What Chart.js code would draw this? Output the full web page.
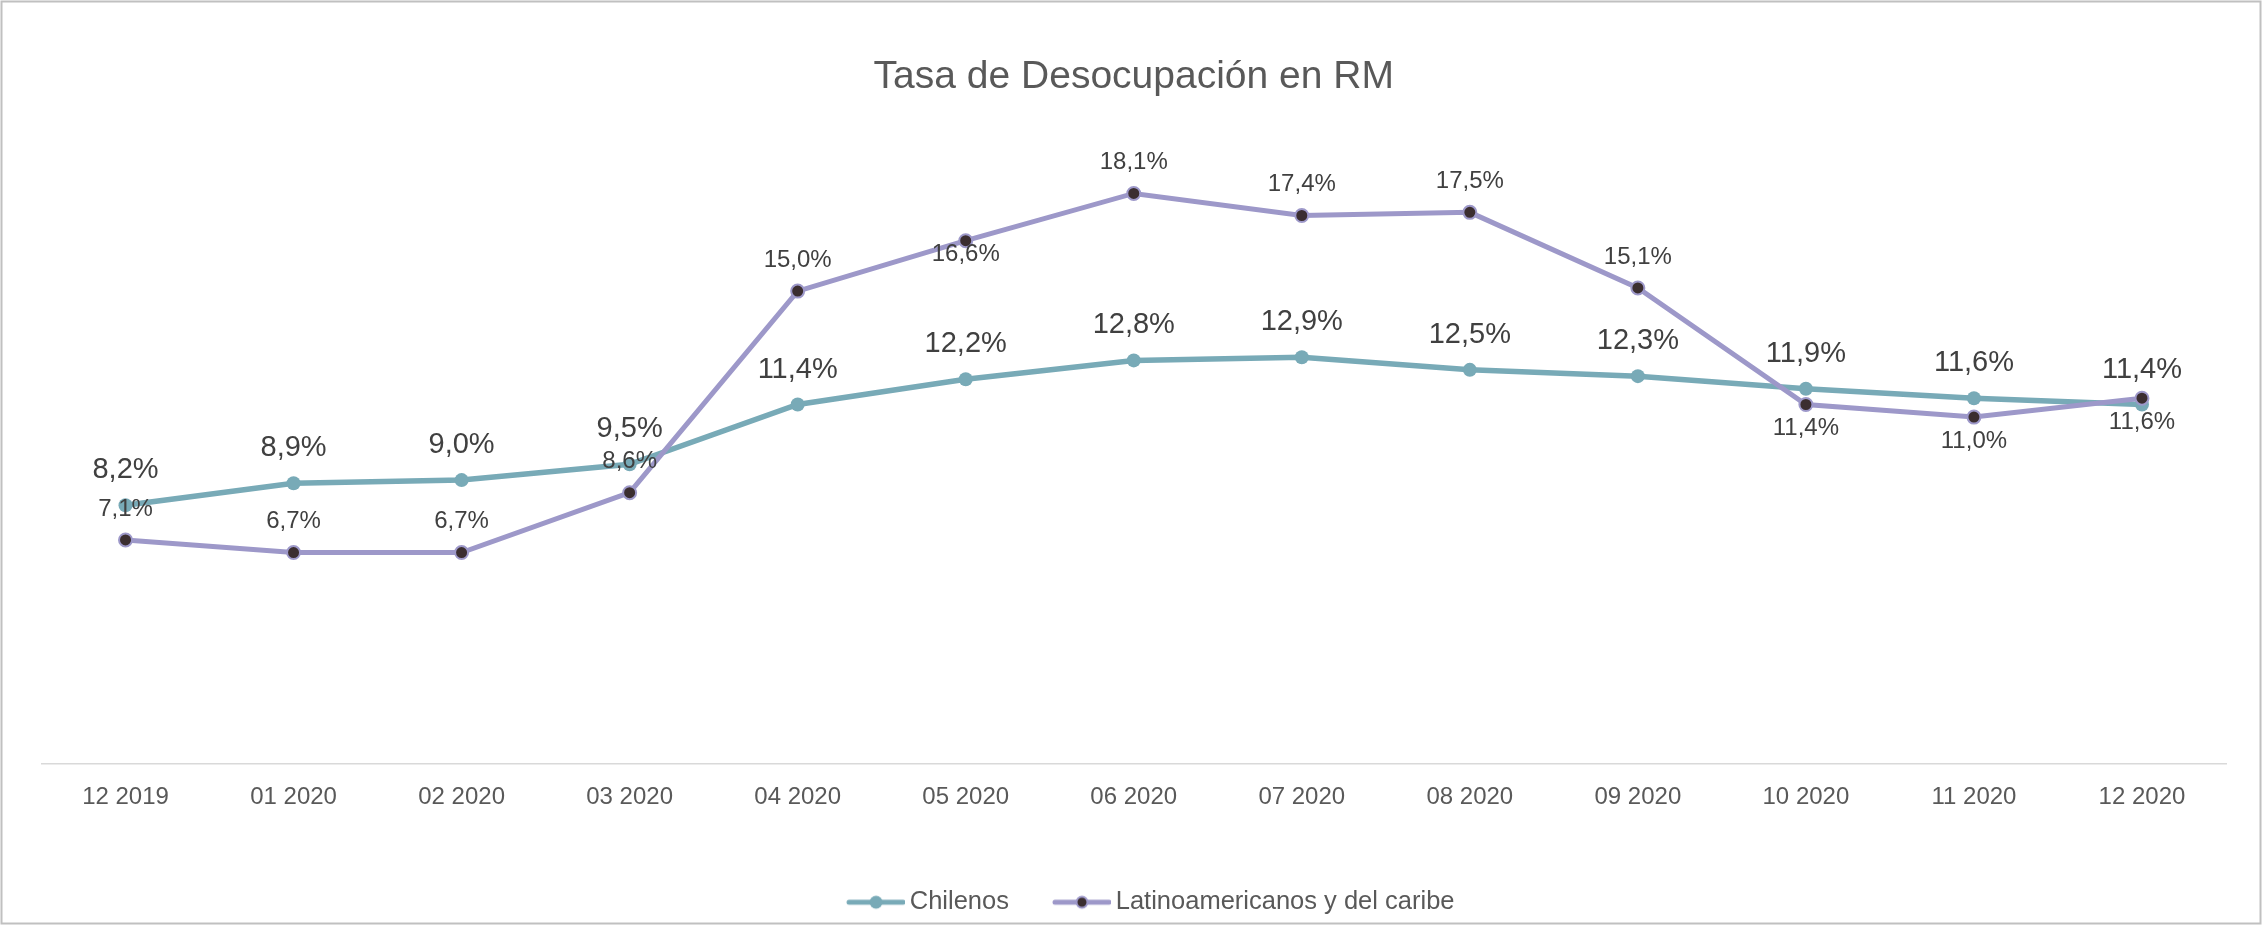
<!DOCTYPE html>
<html>
<head>
<meta charset="utf-8">
<title>Tasa de Desocupación en RM</title>
<script src="https://cdn.jsdelivr.net/npm/chart.js@4.4.1/dist/chart.umd.min.js"></script>
<style>
  html, body { margin: 0; padding: 0; background: #fff; }
  canvas { display: block; }
</style>
</head>
<body>
<canvas id="chart" width="2262" height="925"></canvas>
<script>
const months = ["12 2019", "01 2020", "02 2020", "03 2020", "04 2020", "05 2020", "06 2020",
  "07 2020", "08 2020", "09 2020", "10 2020", "11 2020", "12 2020"];
const chilenos = [8.2, 8.9, 9.0, 9.5, 11.4, 12.2, 12.8, 12.9, 12.5, 12.3, 11.9, 11.6, 11.4];
const latinos = [7.1, 6.7, 6.7, 8.6, 15.0, 16.6, 18.1, 17.4, 17.5, 15.1, 11.4, 11.0, 11.6];
// where each label of the second series sits, relative to its point
const latinoLabelSide = ["above", "above", "above", "above", "above", "near", "above",
  "above", "above", "above", "below", "below", "below"];

const TEAL = "#78aab7";
const PURPLE = "#9d98c9";
const DARK = "#3b2e30";
const FONT = "'Liberation Sans', Arial, sans-serif";

Chart.defaults.font.family = FONT;

const fmt = v => v.toFixed(1).replace(".", ",") + "%";
const sideOffset = { above: -31, below: 24, near: 14 };

// legend marker: a short line with the dot in the middle
function legendMarker(lineColor, dotFill, dotBorder) {
  const c = document.createElement("canvas");
  c.width = 100;
  c.height = 20;
  const g = c.getContext("2d");
  g.strokeStyle = lineColor;
  g.lineWidth = 5;
  g.lineCap = "round";
  g.beginPath();
  g.moveTo(44, 10);
  g.lineTo(98, 10);
  g.stroke();
  g.beginPath();
  g.arc(71, 10, dotBorder ? 5.5 : 6.5, 0, Math.PI * 2);
  g.fillStyle = dotFill;
  g.fill();
  if (dotBorder) {
    g.lineWidth = 2;
    g.strokeStyle = dotBorder;
    g.stroke();
  }
  return c;
}

const markers = [legendMarker(TEAL, TEAL, null), legendMarker(PURPLE, DARK, PURPLE)];

const pointLabels = {
  id: "pointLabels",
  afterDatasetsDraw(chart) {
    const ctx = chart.ctx;
    ctx.save();
    ctx.fillStyle = "#404040";
    ctx.textAlign = "center";
    ctx.textBaseline = "middle";
    chart.data.datasets.forEach((ds, i) => {
      const meta = chart.getDatasetMeta(i);
      meta.data.forEach((pt, j) => {
        let dy;
        if (i === 0) {
          ctx.font = "29px " + FONT;
          dy = -35;
        } else {
          ctx.font = "24px " + FONT;
          dy = sideOffset[latinoLabelSide[j]];
        }
        ctx.fillText(fmt(ds.data[j]), pt.x, pt.y + dy);
      });
    });
    ctx.restore();
  }
};

const frame = {
  id: "frame",
  afterDraw(chart) {
    const ctx = chart.ctx;
    ctx.save();
    ctx.strokeStyle = "#c0c0c0";
    ctx.lineWidth = 2;
    ctx.strokeRect(1.5, 1.5, chart.width - 3, chart.height - 3);
    ctx.restore();
  }
};

new Chart(document.getElementById("chart"), {
  type: "line",
  data: {
    labels: months,
    datasets: [
      {
        label: "Chilenos",
        data: chilenos,
        borderColor: TEAL,
        backgroundColor: TEAL,
        borderWidth: 5.5,
        pointRadius: 7,
        pointBorderWidth: 0,
        pointBackgroundColor: TEAL,
        tension: 0,
        order: 1
      },
      {
        label: "Latinoamericanos y del caribe",
        data: latinos,
        borderColor: PURPLE,
        backgroundColor: PURPLE,
        borderWidth: 5,
        pointRadius: 6.5,
        pointBorderWidth: 2,
        pointBorderColor: PURPLE,
        pointBackgroundColor: DARK,
        tension: 0,
        order: 0
      }
    ]
  },
  options: {
    responsive: false,
    animation: false,
    devicePixelRatio: 1,
    layout: { padding: { left: 41.5, right: 36, top: 0, bottom: 0 } },
    scales: {
      x: {
        offset: true,
        grid: { display: false, drawTicks: false },
        border: { display: true, color: "#d9d9d9", width: 1.5 },
        ticks: { color: "#595959", font: { size: 24 }, padding: 19, maxRotation: 0 },
        afterFit(scale) { scale.height = 115.9; }
      },
      y: {
        display: false,
        min: 0,
        max: 20
      }
    },
    plugins: {
      tooltip: { enabled: false },
      title: {
        display: true,
        text: "Tasa de Desocupación en RM",
        color: "#595959",
        font: { size: 39, weight: "normal" },
        padding: { top: 54.3, bottom: 32.5 }
      },
      legend: {
        position: "bottom",
        labels: {
          color: "#595959",
          font: { size: 25.5 },
          padding: 10,
          usePointStyle: true,
          pointStyleWidth: 84,
          generateLabels(chart) {
            return chart.data.datasets.map((ds, i) => ({
              text: ds.label,
              pointStyle: markers[i],
              fillStyle: ds.borderColor,
              strokeStyle: ds.borderColor,
              lineWidth: 0,
              hidden: false,
              datasetIndex: i,
              fontColor: "#595959"
            }));
          }
        }
      }
    }
  },
  plugins: [pointLabels, frame]
});
</script>
</body>
</html>
